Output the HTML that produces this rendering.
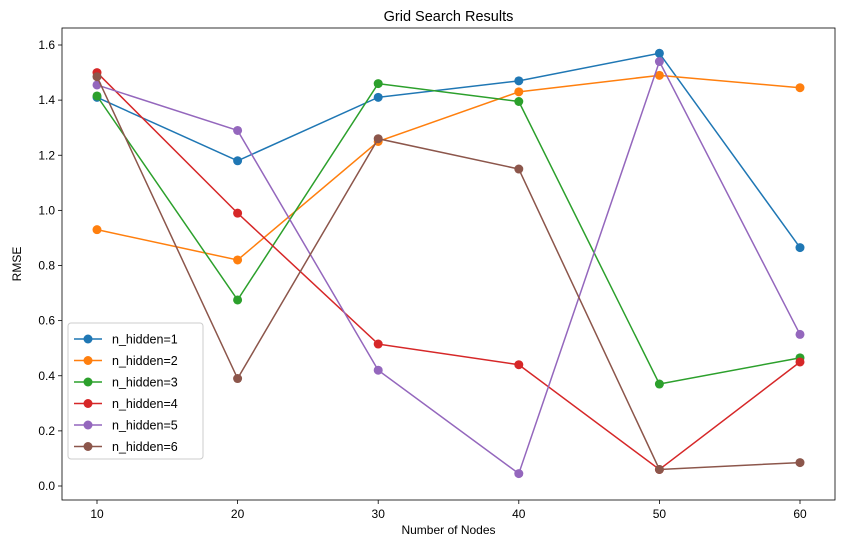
<!DOCTYPE html>
<html><head><meta charset="utf-8"><style>
body{margin:0;background:#fff;font-family:"Liberation Sans","DejaVu Sans",sans-serif}
svg text{font-family:"Liberation Sans","DejaVu Sans",sans-serif}
</style></head><body>
<svg id="chart" width="846" height="547" xmlns="http://www.w3.org/2000/svg"></svg>
<script>
const categories=[10,20,30,40,50,60];
const seriesNames=["n_hidden=1","n_hidden=2","n_hidden=3","n_hidden=4","n_hidden=5","n_hidden=6"];
const s1=[1.41,1.18,1.41,1.47,1.57,0.865];
const s2=[0.93,0.82,1.25,1.43,1.49,1.445];
const s3=[1.415,0.675,1.46,1.395,0.37,0.465];
const s4=[1.50,0.99,0.515,0.44,0.06,0.45];
const s5=[1.455,1.29,0.42,0.045,1.54,0.55];
const s6=[1.485,0.39,1.26,1.15,0.06,0.085];
const yTicks=["0.0","0.2","0.4","0.6","0.8","1.0","1.2","1.4","1.6"];
const colors=["#1f77b4","#ff7f0e","#2ca02c","#d62728","#9467bd","#8c564b"];
const series=[s1,s2,s3,s4,s5,s6];
const svg=document.getElementById('chart');
const NS="http://www.w3.org/2000/svg";
const L=62,R=835,T=28,B=500;
const xs=v=>97+(v-10)*(800-97)/50;
const ys=v=>486-v*(486-45)/1.6;
function mk(tag,attrs,parent){const e=document.createElementNS(NS,tag);for(const k in attrs)e.setAttribute(k,attrs[k]);(parent||svg).appendChild(e);return e;}
const frame=mk('rect',{x:L,y:T,width:R-L,height:B-T,fill:'none',stroke:'#000','stroke-width':0.8});


categories.forEach(c=>{
 const g=mk('g',{});
 
 
 mk('line',{x1:xs(c),x2:xs(c),y1:B,y2:B+4,stroke:'#000','stroke-width':0.8},g);
 const t=mk('text',{x:xs(c),y:B+18,'text-anchor':'middle','font-size':12},g);t.textContent=c;
});
yTicks.forEach(l=>{
 const v=parseFloat(l);
 const g=mk('g',{});
 
 
 mk('line',{x1:L-4,x2:L,y1:ys(v),y2:ys(v),stroke:'#000','stroke-width':0.8},g);
 const t=mk('text',{x:L-7,y:ys(v)+4,'text-anchor':'end','font-size':12},g);t.textContent=l;
});
const title=mk('text',{x:(L+R)/2,y:T-7,'text-anchor':'middle','font-size':14.5});title.textContent="Grid Search Results";


const xt=mk('text',{x:(L+R)/2,y:534,'text-anchor':'middle','font-size':12});xt.textContent="Number of Nodes";


const yt=mk('text',{x:21,y:(T+B)/2,'text-anchor':'middle','font-size':12,transform:`rotate(-90 21 ${(T+B)/2})`});yt.textContent="RMSE";


series.forEach((s,i)=>{
 const g=mk('g',{});
 
 
 mk('polyline',{points:s.map((v,j)=>xs(categories[j])+','+ys(v)).join(' '),fill:'none',stroke:colors[i],'stroke-width':1.5},g);
 s.forEach((v,j)=>{const p=mk('circle',{cx:xs(categories[j]),cy:ys(v),r:4.5,fill:colors[i]},g);
  
  });
});
const lg=mk('g',{});


mk('rect',{x:68,y:323,width:135,height:136,rx:3,fill:'#fff','fill-opacity':0.8,stroke:'#ccc'},lg);
seriesNames.forEach((n,i)=>{
 const y=339+i*21.5;
 const e=mk('g',{},lg);
 
 
 mk('line',{x1:74,x2:102,y1:y,y2:y,stroke:colors[i],'stroke-width':1.5},e);
 mk('circle',{cx:88,cy:y,r:4.5,fill:colors[i]},e);
 const t=mk('text',{x:112,y:y+4.5,'font-size':12.5},e);t.textContent=n;
});
</script>
</body></html>
